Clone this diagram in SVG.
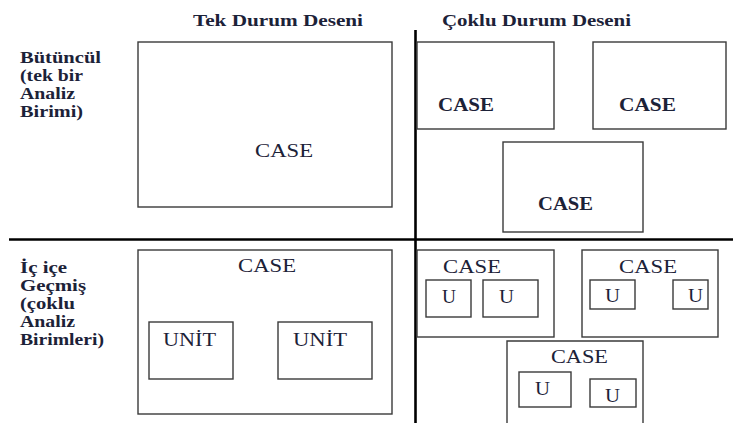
<svg xmlns="http://www.w3.org/2000/svg" width="733" height="423" viewBox="0 0 733 423">
<style>
text{font-family:"Liberation Serif","Times New Roman",serif;fill:#1c2238}
.h{font-size:16px;font-weight:bold}
.c{font-size:18px}
.cb{font-size:18px;font-weight:bold}
.box{fill:none;stroke:#3a3a3a;stroke-width:1.4}
.div{stroke:#000;stroke-width:2.6}
</style>
<rect width="733" height="423" fill="#fff"/>
<g id="dividers">
<line class="div" x1="415.5" y1="30" x2="415.5" y2="423"/>
<line class="div" x1="9" y1="239.5" x2="733" y2="239.5"/>
</g>
<g id="headers">
<text class="h" x="193" y="26" textLength="170" lengthAdjust="spacingAndGlyphs">Tek Durum Deseni</text>
<text class="h" x="442" y="26" textLength="189" lengthAdjust="spacingAndGlyphs">Çoklu Durum Deseni</text>
</g>
<g id="row-labels">
<text class="h" x="20" y="63" textLength="81" lengthAdjust="spacingAndGlyphs">Bütüncül</text>
<text class="h" x="20" y="81" textLength="63" lengthAdjust="spacingAndGlyphs">(tek bir</text>
<text class="h" x="20" y="99" textLength="55" lengthAdjust="spacingAndGlyphs">Analiz</text>
<text class="h" x="20" y="117" textLength="63" lengthAdjust="spacingAndGlyphs">Birimi)</text>
<text class="h" x="20" y="273" textLength="47" lengthAdjust="spacingAndGlyphs">İç içe</text>
<text class="h" x="20" y="291" textLength="66" lengthAdjust="spacingAndGlyphs">Geçmiş</text>
<text class="h" x="20" y="309" textLength="55" lengthAdjust="spacingAndGlyphs">(çoklu</text>
<text class="h" x="20" y="327" textLength="55" lengthAdjust="spacingAndGlyphs">Analiz</text>
<text class="h" x="20" y="345" textLength="84" lengthAdjust="spacingAndGlyphs">Birimleri)</text>
</g>
<g id="single-holistic">
<rect class="box" x="138" y="42" width="254" height="165"/>
<text class="c" x="255" y="157" textLength="58" lengthAdjust="spacingAndGlyphs">CASE</text>
</g>
<g id="multi-holistic-1">
<rect class="box" x="417" y="42" width="137" height="87"/>
<text class="cb" x="438" y="111" textLength="56" lengthAdjust="spacingAndGlyphs">CASE</text>
</g>
<g id="multi-holistic-2">
<rect class="box" x="593" y="42" width="133" height="87"/>
<text class="cb" x="619" y="111" textLength="57" lengthAdjust="spacingAndGlyphs">CASE</text>
</g>
<g id="multi-holistic-3">
<rect class="box" x="503" y="142" width="140" height="90"/>
<text class="cb" x="538" y="210" textLength="55" lengthAdjust="spacingAndGlyphs">CASE</text>
</g>
<g id="single-embedded">
<rect class="box" x="138" y="250" width="254" height="164"/>
<text class="c" x="238" y="272" textLength="58" lengthAdjust="spacingAndGlyphs">CASE</text>
<g id="unit-1">
<rect class="box" x="149" y="322" width="84" height="57"/>
<text class="c" x="163" y="346" textLength="53" lengthAdjust="spacingAndGlyphs">UNİT</text>
</g>
<g id="unit-2">
<rect class="box" x="278" y="322" width="94" height="57"/>
<text class="c" x="293" y="346" textLength="54" lengthAdjust="spacingAndGlyphs">UNİT</text>
</g>
</g>
<g id="multi-embedded-1">
<rect class="box" x="417" y="250" width="137" height="87"/>
<text class="c" x="443" y="273" textLength="58" lengthAdjust="spacingAndGlyphs">CASE</text>
<rect class="box" x="426" y="280" width="45" height="37"/>
<text class="c" x="442" y="303" textLength="14" lengthAdjust="spacingAndGlyphs">U</text>
<rect class="box" x="483" y="280" width="55" height="37"/>
<text class="c" x="499" y="303" textLength="15" lengthAdjust="spacingAndGlyphs">U</text>
</g>
<g id="multi-embedded-2">
<rect class="box" x="582" y="250" width="136" height="87"/>
<text class="c" x="619" y="273" textLength="58" lengthAdjust="spacingAndGlyphs">CASE</text>
<rect class="box" x="590" y="280" width="45" height="29"/>
<text class="c" x="605" y="302" textLength="15" lengthAdjust="spacingAndGlyphs">U</text>
<rect class="box" x="673" y="280" width="35" height="29"/>
<text class="c" x="688" y="302" textLength="15" lengthAdjust="spacingAndGlyphs">U</text>
</g>
<g id="multi-embedded-3">
<path class="box" d="M507,424 V341 H643 V424"/>
<text class="c" x="551" y="363" textLength="57" lengthAdjust="spacingAndGlyphs">CASE</text>
<rect class="box" x="519" y="372" width="52" height="35"/>
<text class="c" x="535" y="395" textLength="15" lengthAdjust="spacingAndGlyphs">U</text>
<rect class="box" x="590" y="379" width="46" height="28"/>
<text class="c" x="605" y="402" textLength="15" lengthAdjust="spacingAndGlyphs">U</text>
</g>
</svg>
